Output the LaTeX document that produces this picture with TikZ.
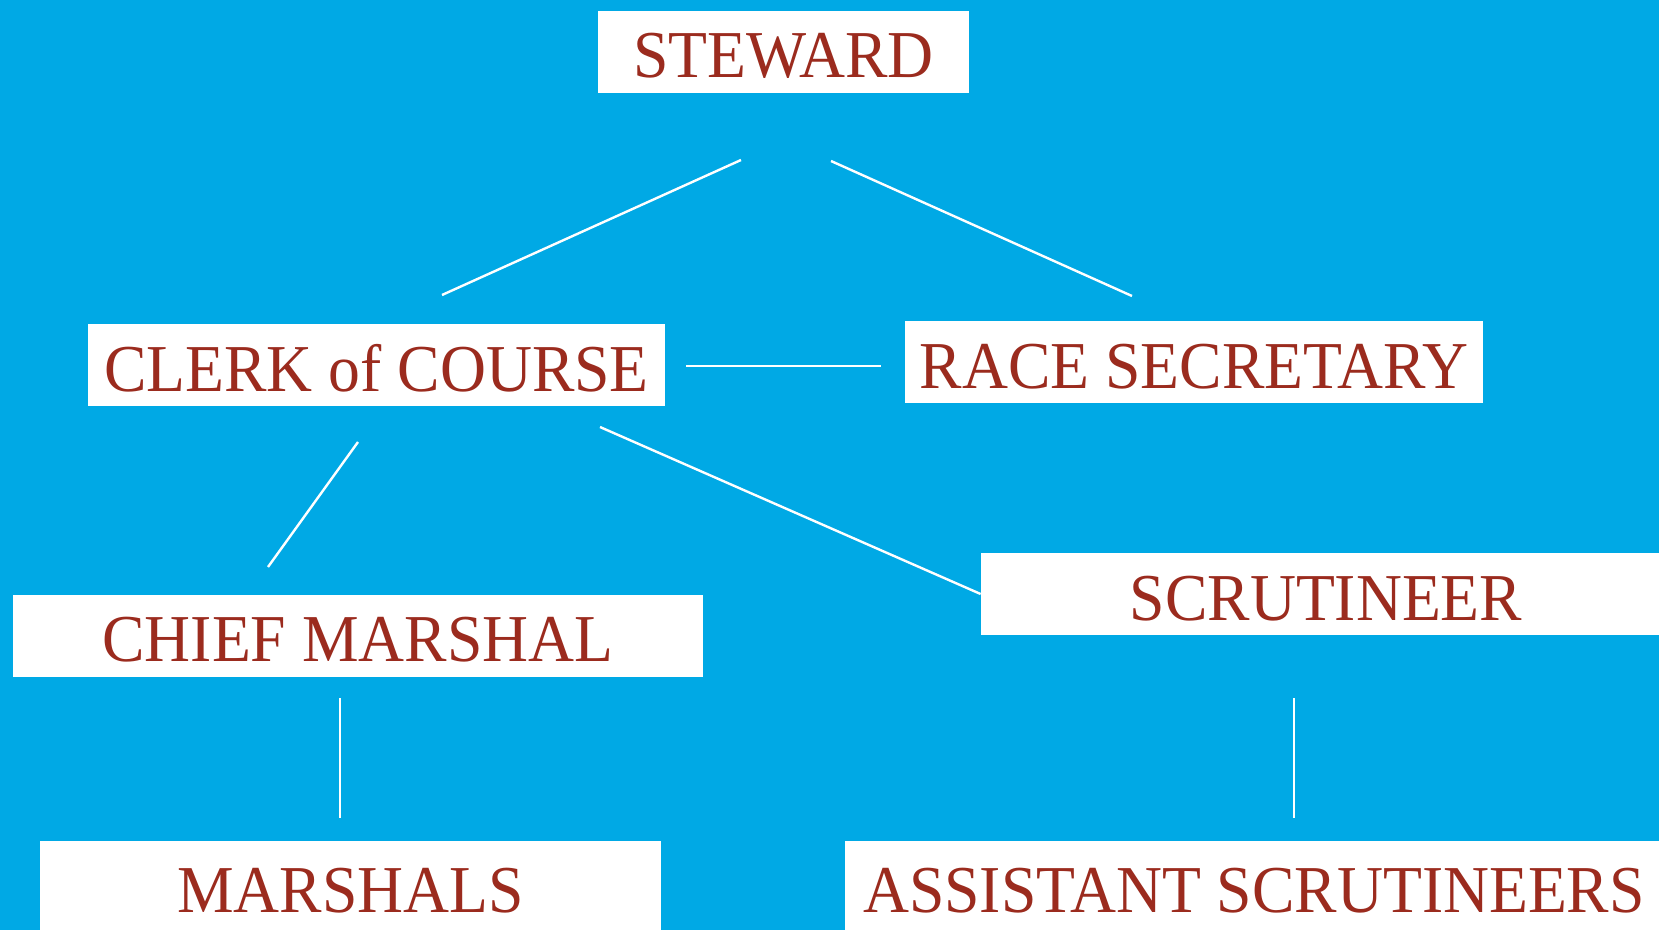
\documentclass[tikz,border=0pt]{standalone}
\usepackage{fontspec}
\setmainfont{Liberation Serif}[FakeStretch=0.95]
\usepackage{tikz}
\definecolor{skyblue}{RGB}{0,169,229}
\definecolor{brickred}{RGB}{155,43,30}
\tikzset{role/.style={rectangle,fill=white,text=brickred,inner sep=0pt,
    minimum height=41pt,text height=30pt,text depth=4pt,
    font=\fontsize{33.5}{40}\selectfont}}
\begin{document}
\begin{tikzpicture}[x=0.5pt,y=-0.5pt]
    \fill[skyblue] (0,0) rectangle (1659,930);
    \useasboundingbox (0,0) rectangle (1659,930);

    \node[role,minimum width=185.5pt] (steward) at (783.5,52) {STEWARD};
    \node[role,minimum width=288.5pt] (clerk) at (376.5,365.5) {CLERK of COURSE};
    \node[role,minimum width=289pt] (secretary) at (1194,362.5) {RACE SECRETARY};
    \node[role,minimum width=345pt] (chief) at (358,635.5) {CHIEF MARSHAL};
    \node[role,minimum width=345pt] (scrutineer) at (1326,594) {SCRUTINEER};
    \node[role,minimum width=310.5pt,minimum height=45.5pt] (marshals) at (350.5,886.5) {MARSHALS};
    \node[role,minimum width=409pt,minimum height=45.5pt] (assistants) at (1254,886.5) {ASSISTANT SCRUTINEERS};

    % line ends
    \coordinate (s1) at (741,160);
    \coordinate (c1) at (442,295);
    \coordinate (s2) at (831,161);
    \coordinate (r1) at (1132,296);
    \coordinate (c2) at (686,366);
    \coordinate (r2) at (881,366);
    \coordinate (c3) at (358,442);
    \coordinate (m1) at (268,567);
    \coordinate (c4) at (600,427);
    \coordinate (m2) at (340,698);
    \coordinate (m3) at (340,818);
    \coordinate (t1) at (1294,698);
    \coordinate (t2) at (1294,818);

  \foreach \from/\to in {s1/c1,s2/r1,c2/r2,c3/m1,m2/m3,t1/t2}
    \draw[white,line width=1.2pt] (\from) -- (\to);
  \draw[white,line width=1.2pt] (c4) -- (scrutineer.west);
\end{tikzpicture}
\end{document}
